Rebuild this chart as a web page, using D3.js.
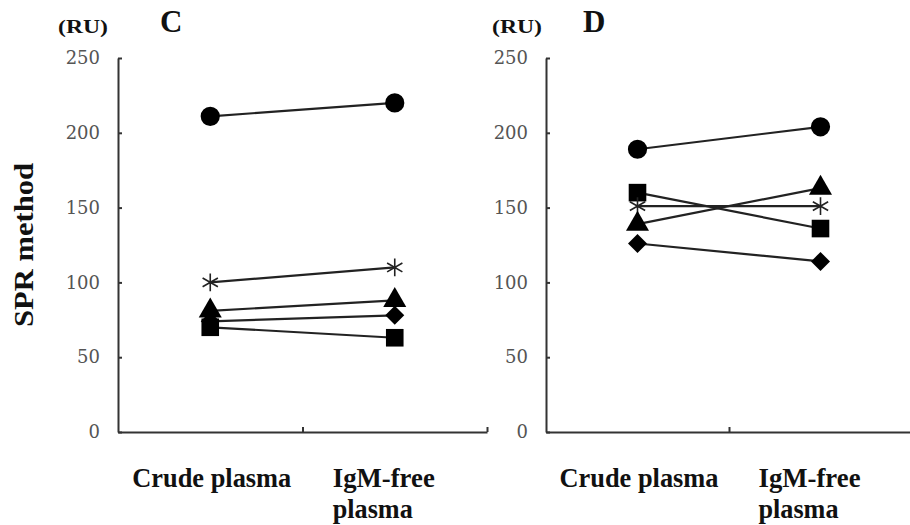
<!DOCTYPE html>
<html>
<head>
<meta charset="utf-8">
<script src="https://cdn.jsdelivr.net/npm/d3@7"></script>
<style>
  body { margin: 0; background: #fff; }
  svg { display: block; }
</style>
</head>
<body>
<div id="chart"></div>
<script>
// data (RU)
const categories = ['Crude plasma', 'IgM-free plasma'];
const yTicks = [0, 50, 100, 150, 200, 250];

const panelC = [
    { marker: 'circle',   values: [211, 220] },
    { marker: 'star',     values: [100, 110] },
    { marker: 'triangle', values: [81, 88] },
    { marker: 'diamond',  values: [74, 78] },
    { marker: 'square',   values: [70, 63] }
];

const panelD = [
    { marker: 'circle',   values: [189, 204] },
    { marker: 'square',   values: [160, 136] },
    { marker: 'star',     values: [151, 151] },
    { marker: 'triangle', values: [139, 163] },
    { marker: 'diamond',  values: [126, 114] }
];

const width = 910;
const height = 525;

const svg = d3.select('#chart')
    .append('svg')
    .attr('width', width)
    .attr('height', height);

const y = d3.scaleLinear()
    .domain([0, 250])
    .range([432, 58]);

const symbols = {
    circle:   d3.symbol().type(d3.symbolCircle).size(290),
    square:   d3.symbol().type(d3.symbolSquare).size(310),
    triangle: d3.symbol().type(d3.symbolTriangle).size(230),
    diamond:  d3.symbol().type(d3.symbolDiamond2).size(230),
    star:     d3.symbol().type(d3.symbolAsterisk).size(220)
};

function boldText(g, str, x, yPos, size, len) {
    const t = g.append('text')
        .attr('x', x)
        .attr('y', yPos)
        .attr('font-family', '"Liberation Serif", "Times New Roman", serif')
        .attr('font-weight', 'bold')
        .attr('font-size', size)
        .attr('fill', '#111')
        .text(str);
    if (len) t.attr('textLength', len).attr('lengthAdjust', 'spacingAndGlyphs');
    return t;
}

function drawPanel(data, opt) {
    const g = svg.append('g');

    const x = d3.scaleBand()
        .domain(categories)
        .range([opt.x0, opt.x1])
        .padding(0);

    const xEdge = d3.scaleLinear()
        .domain([0, categories.length])
        .range([opt.x0, opt.x1]);

    // x axis: ticks at the category boundaries, pointing up
    const xAxis = g.append('g')
        .attr('transform', `translate(0,${y(0)})`)
        .call(d3.axisBottom(xEdge)
            .tickValues([1, 2])
            .tickSizeInner(-5)
            .tickSizeOuter(0)
            .tickFormat(''));
    xAxis.selectAll('path, line').attr('stroke', '#333').attr('stroke-width', 2);

    // y axis
    const yAxis = g.append('g')
        .attr('transform', `translate(${opt.x0},0)`)
        .call(d3.axisLeft(y)
            .tickValues(yTicks)
            .tickSizeInner(-4)
            .tickSizeOuter(0)
            .tickPadding(18));
    yAxis.selectAll('path, line').attr('stroke', '#333').attr('stroke-width', 2);
    yAxis.selectAll('text')
        .attr('font-family', '"DejaVu Serif", serif')
        .attr('font-size', 18)
        .attr('fill', '#555');

    const cx = d => x(d) + x.bandwidth() / 2;

    const line = d3.line()
        .x((v, i) => cx(categories[i]))
        .y(v => y(v));

    g.selectAll('.link')
        .data(data)
        .enter()
        .append('path')
        .attr('class', 'link')
        .attr('d', d => line(d.values))
        .attr('fill', 'none')
        .attr('stroke', '#222')
        .attr('stroke-width', 2.2);

    data.forEach(s => {
        g.selectAll(null)
            .data(s.values)
            .enter()
            .append('path')
            .attr('transform', (v, i) => `translate(${cx(categories[i])},${y(v)})`)
            .attr('d', symbols[s.marker])
            .attr('fill', s.marker === 'star' ? 'none' : '#000')
            .attr('stroke', s.marker === 'star' ? '#222' : 'none')
            .attr('stroke-width', 1.6);
    });

    // unit and panel letter
    boldText(g, '(RU)', opt.ruX, 33, 18, 50);
    boldText(g, opt.letter, opt.letterX, 32, 31);

    // category labels
    boldText(g, 'Crude plasma', cx(categories[0]) - 78, 487, 27, 159);
    boldText(g, 'IgM-free', cx(categories[1]) - 62, 487, 27, 102);
    boldText(g, 'plasma', cx(categories[1]) - 62, 518, 27, 80);
}

drawPanel(panelC, { x0: 118, x1: 487, ruX: 58, letter: 'C', letterX: 160 });
drawPanel(panelD, { x0: 546, x1: 912, ruX: 492, letter: 'D', letterX: 583 });

// y axis title
svg.append('text')
    .attr('transform', 'translate(33,245) rotate(-90)')
    .attr('text-anchor', 'middle')
    .attr('font-family', '"Liberation Serif", "Times New Roman", serif')
    .attr('font-weight', 'bold')
    .attr('font-size', 27)
    .attr('fill', '#111')
    .attr('textLength', 164)
    .attr('lengthAdjust', 'spacingAndGlyphs')
    .text('SPR method');
</script>
</body>
</html>
